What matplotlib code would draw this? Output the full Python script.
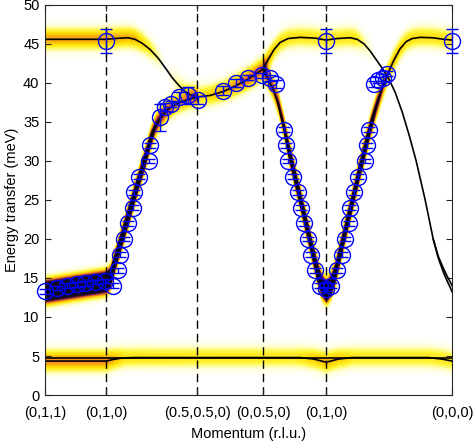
import numpy as np
import matplotlib
matplotlib.use("Agg")
import matplotlib.pyplot as plt
from matplotlib.colors import LinearSegmentedColormap

plt.rcParams['font.family'] = ['Liberation Sans', 'DejaVu Sans']

# ---------------- data ----------------
tick_pos = [0.0, 0.61, 1.52, 2.18, 2.81, 4.07]
tick_labels = ['(0,1,1)', '(0,1,0)', '(0.5,0.5,0)', '(0,0.5,0)', '(0,1,0)', '(0,0,0)']
dashed_pos = [0.61, 1.52, 2.18, 2.81]

# model dispersion branches (momentum path coordinate, energy meV)
upper_left_q = [0.0, 0.61, 0.75, 0.83, 0.90, 0.97, 1.05, 1.13, 1.21, 1.27, 1.33, 1.39, 1.45,
                1.52, 1.65, 1.78, 1.90, 2.03, 2.18]
upper_left_E = [45.6, 45.6, 45.75, 45.8, 45.6, 45.1, 44.3, 43.2, 41.8, 40.7, 39.8, 39.0, 38.5,
                38.2, 38.4, 38.9, 39.6, 40.5, 41.8]

upper_right_q = [2.18, 2.23, 2.29, 2.35, 2.43, 2.55, 2.70, 2.81, 2.92, 3.05, 3.12, 3.19, 3.25,
                 3.31, 3.37, 3.43, 3.50, 3.57, 3.64, 3.71, 3.80, 3.88, 3.93, 3.98, 4.02, 4.05, 4.07]
upper_right_E = [41.8, 43.0, 44.3, 45.2, 45.7, 45.85, 45.75, 45.5, 45.7, 45.8, 45.6, 45.0, 44.1,
                 43.0, 41.9, 40.7, 38.8, 36.3, 33.3, 30.0, 25.0, 20.0, 17.6, 15.8, 14.6, 13.8, 13.2]
split_q = [3.88, 3.93, 3.98, 4.02, 4.05, 4.07]
split_E = [20.0, 17.8, 16.3, 15.2, 14.5, 14.0]

v_q = [2.18, 2.23, 2.28, 2.33, 2.38, 2.43, 2.49, 2.55, 2.61, 2.67, 2.72, 2.76, 2.79, 2.81,
       2.83, 2.86, 2.90, 2.95, 3.01, 3.07, 3.13, 3.19, 3.25, 3.31, 3.37, 3.43, 3.49, 3.55,
       3.61, 3.67, 3.75, 3.87, 3.99, 4.07]
v_E = [41.8, 40.5, 39.2, 37.3, 34.6, 31.5, 28.2, 25.0, 21.7, 18.4, 15.7, 14.1, 13.5, 13.3,
       13.5, 14.1, 15.6, 18.3, 21.6, 24.8, 28.1, 31.2, 34.3, 37.0, 39.3, 41.3, 43.0, 44.4,
       45.3, 45.7, 45.85, 45.8, 45.6, 45.5]

low_q = [0.0, 0.15, 0.30, 0.45, 0.61, 0.65, 0.70, 0.75, 0.80, 0.85, 0.90, 0.95, 1.00, 1.05,
         1.10, 1.15, 1.21, 1.27, 1.35, 1.43, 1.52]
low_E = [13.2, 13.5, 13.8, 14.1, 14.4, 15.0, 17.2, 19.4, 21.6, 23.8, 26.0, 28.2, 30.3, 32.6,
         34.4, 35.5, 36.4, 37.0, 37.5, 37.9, 38.2]

bottom_flat_q = [0.0, 4.07]
bottom_flat_E = [4.8, 4.8]
bottom_low_q = [0.0, 0.61, 0.68, 0.77, 0.90, 2.55, 2.69, 2.81, 2.93, 3.07, 3.83, 3.97, 4.07]
bottom_low_E = [4.35, 4.35, 4.55, 4.75, 4.8, 4.8, 4.6, 4.2, 4.6, 4.8, 4.8, 4.6, 4.35]

# intensity along branches (for the simulated S(Q,w) map)
int_upper_left_q = [0.0, 0.61, 0.90, 1.05, 1.20, 1.52, 1.80, 2.05, 2.18]
int_upper_left_I = [0.45, 0.45, 0.4, 0.22, 0.0, 0.28, 0.42, 0.6, 0.66]
int_upper_right_q = [2.18, 2.30, 2.50, 2.81, 3.10, 3.20, 3.30, 4.07]
int_upper_right_I = [0.55, 0.3, 0.27, 0.27, 0.27, 0.1, 0.0, 0.0]
int_v_q = [2.18, 2.30, 2.38, 2.45, 2.81, 3.20, 3.30, 3.43, 3.60, 4.07]
int_v_I = [0.66, 0.72, 1.1, 1.8, 2.3, 1.8, 1.1, 0.45, 0.3, 0.27]
int_low_q = [0.0, 0.61, 0.70, 1.00, 1.10, 1.30, 1.52]
int_low_I = [3.0, 3.0, 2.3, 1.8, 1.0, 0.5, 0.4]
int_bottom_q = [0.0, 0.61, 0.80, 2.50, 2.81, 3.10, 4.07]
int_bottom_I = [0.5, 0.5, 0.28, 0.26, 0.42, 0.26, 0.26]

# measured points
obs_q = [0.0, 0.12, 0.22, 0.32, 0.40, 0.50, 0.60, 0.68,
         0.73, 0.745, 0.79, 0.83, 0.875, 0.89, 0.94, 1.035, 1.045,
         1.15, 1.20, 1.26, 1.34, 1.43, 1.53, 1.78, 1.91, 2.03, 2.17, 2.25, 2.31,
         2.39, 2.41, 2.43, 2.48, 2.525, 2.555, 2.59, 2.625, 2.66, 2.70, 2.745,
         2.81, 2.86, 2.915, 2.965, 3.00, 3.035, 3.05, 3.085, 3.13, 3.20, 3.22, 3.24,
         3.285, 3.333, 3.377, 3.423,
         0.61, 2.81, 4.07]
obs_E = [13.3, 13.7, 14.0, 14.2, 14.3, 14.5, 14.6, 14.0,
         16, 18, 20, 22, 24, 26, 28, 30, 32,
         35.6, 36.9, 37.3, 38.2, 38.4, 37.8, 39.0, 40.0, 40.7, 41.0, 40.6, 39.9,
         34, 32, 30, 28, 26, 24, 22, 20, 18, 16, 14,
         13.6, 14, 16, 18, 20, 22, 24, 26, 28, 30, 32, 34,
         39.9, 40.4, 40.7, 41.2,
         45.4, 45.4, 45.4]
obs_err = [0.3, 0.3, 0.3, 0.3, 0.3, 0.3, 0.3, 0.3,
           0.3, 0.3, 0.3, 0.3, 0.3, 0.3, 0.3, 0.3, 0.3,
           1.7, 0.5, 0.4, 0.6, 1.1, 0.5, 0.6, 0.5, 0.3, 0.3, 0.4, 0.5,
           0.3, 0.3, 0.3, 0.3, 0.3, 0.3, 0.3, 0.3, 0.3, 0.3, 0.3,
           0.3, 0.3, 0.3, 0.3, 0.3, 0.3, 0.3, 0.3, 0.3, 0.3, 0.3, 0.3,
           0.4, 0.4, 0.4, 0.3,
           1.5, 1.5, 1.5]

# ---------------- figure ----------------
fig = plt.figure(figsize=(4.74, 4.41), dpi=100)
ax = fig.add_axes([0.095, 0.1043, 0.859, 0.8844])

qmax = tick_pos[-1]
qg = np.linspace(0, qmax, 408)
Eg = np.linspace(0, 50, 501)
Q, EE = np.meshgrid(qg, Eg)
heat = np.zeros_like(Q)

def add_branch(bq, bE, iq, iI, sigma):
    global heat
    ec = np.interp(qg, bq, bE)
    inten = np.interp(qg, iq, iI)
    mask = (qg >= min(bq)) & (qg <= max(bq))
    g = np.exp(-(EE - ec[None, :]) ** 2 / (2 * sigma ** 2))
    heat += g * (inten * mask)[None, :]

add_branch(upper_left_q, upper_left_E, int_upper_left_q, int_upper_left_I, 0.85)
add_branch(upper_right_q, upper_right_E, int_upper_right_q, int_upper_right_I, 0.85)
add_branch(v_q, v_E, int_v_q, int_v_I, 0.85)
add_branch(low_q, low_E, int_low_q, int_low_I, 0.8)
add_branch(bottom_low_q, bottom_low_E, int_bottom_q, int_bottom_I, 0.85)

cmap = LinearSegmentedColormap.from_list('heat', [
    (0.0, (1, 1, 1)),
    (0.07, (1, 1, 0.8)),
    (0.18, (1, 0.97, 0.25)),
    (0.33, (1, 0.85, 0.0)),
    (0.5, (0.95, 0.55, 0.12)),
    (0.65, (0.8, 0.28, 0.2)),
    (0.8, (0.42, 0.1, 0.28)),
    (1.0, (0.08, 0.05, 0.12)),
])
ax.imshow(np.clip(heat, 0, 1), extent=[0, qmax, 0, 50], origin='lower', aspect='auto',
          cmap=cmap, vmin=0, vmax=1, interpolation='bilinear', zorder=0)

for xp in dashed_pos:
    ax.axvline(xp, color='black', lw=1.0, linestyle=(0, (6, 3.6)), zorder=1)

lw = 1.2
ax.plot(upper_left_q, upper_left_E, color='black', lw=lw, zorder=2)
ax.plot(upper_right_q, upper_right_E, color='black', lw=lw, zorder=2)
ax.plot(split_q, split_E, color='black', lw=lw, zorder=2)
ax.plot(v_q, v_E, color='black', lw=lw, zorder=2)
ax.plot(low_q, low_E, color='black', lw=lw, zorder=2)
ax.plot(bottom_flat_q, bottom_flat_E, color='black', lw=lw, zorder=2)
ax.plot(bottom_low_q, bottom_low_E, color='black', lw=lw, zorder=2)

ax.errorbar(obs_q, obs_E, yerr=obs_err, fmt='o', ms=11.5, mfc='none', mec=(0, 0, 1),
            mew=1.0, ecolor=(0, 0, 1), elinewidth=1.0, capsize=4, capthick=1.0,
            zorder=3, clip_on=False)

ax.set_xlim(0, qmax)
ax.set_ylim(0, 50)
ax.set_xticks(tick_pos)
ax.set_xticklabels(tick_labels)
ax.set_yticks(np.arange(0, 51, 5))
ax.tick_params(direction='in', top=True, right=True, length=4, width=0.8,
               labelsize=10.5, color='#262626')
ax.tick_params(axis='x', pad=8)
ax.tick_params(axis='y', pad=4)
for s in ax.spines.values():
    s.set_linewidth(0.8)
    s.set_color('#262626')
ax.set_xlabel('Momentum (r.l.u.)', fontsize=10.5, labelpad=5)
ax.set_ylabel('Energy transfer (meV)', fontsize=10.5, labelpad=3)

fig.savefig('out.png', dpi=100)
